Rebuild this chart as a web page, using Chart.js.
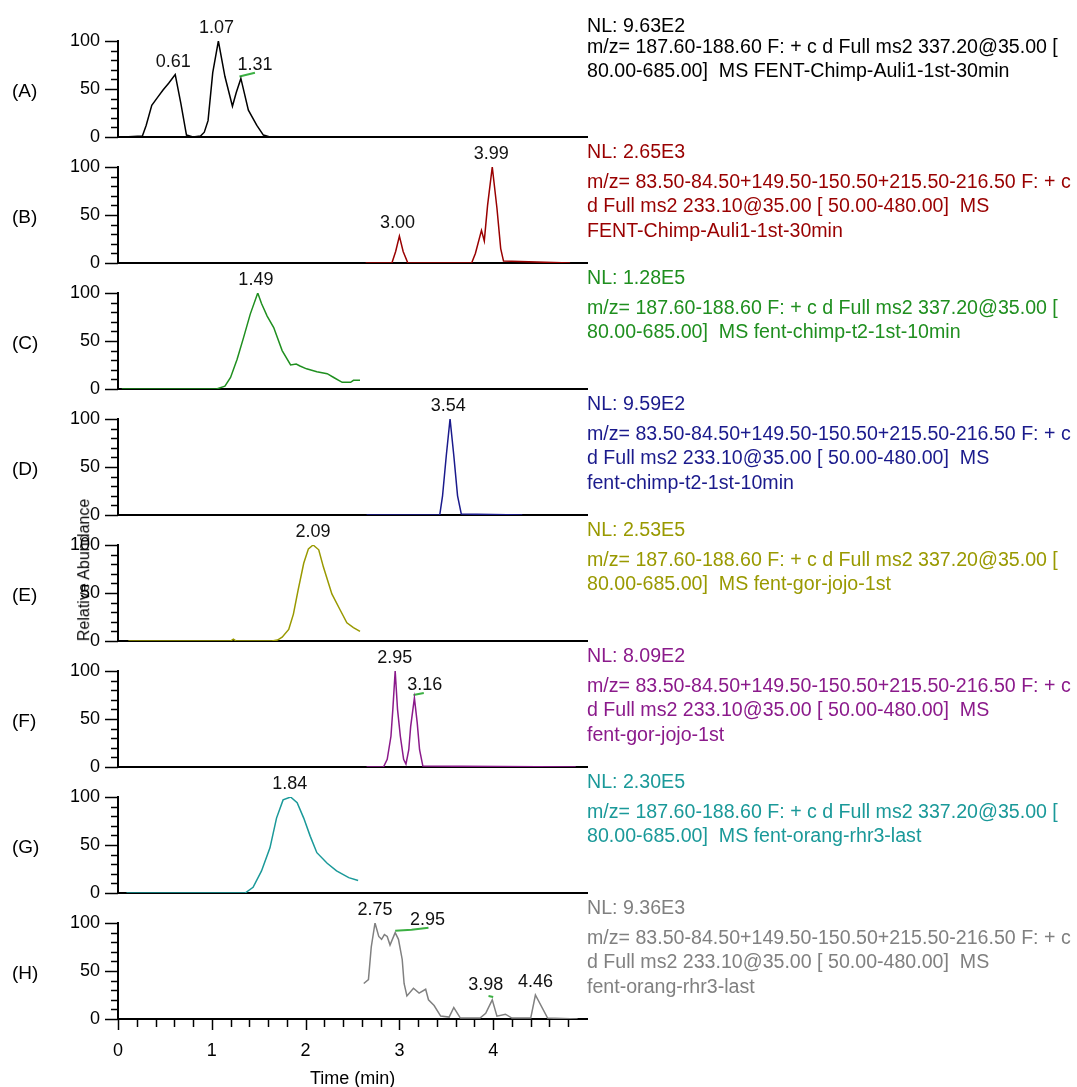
<!DOCTYPE html>
<html>
<head>
<meta charset="utf-8">
<script src="https://cdn.jsdelivr.net/npm/chart.js@4.4.1/dist/chart.umd.min.js"></script>
<style>
  html, body { margin: 0; padding: 0; background: #fff; }
  body { width: 1077px; height: 1087px; position: relative; overflow: hidden; font-family: "Liberation Sans", Arial, sans-serif; }
  .wrap { position: absolute; left: 0; width: 600px; }
  .txt { position: absolute; white-space: pre; font-size: 19.6px; line-height: 24.5px; }
  .plabel { position: absolute; left: 12px; font-size: 19px; line-height: 24px; color: #000; }
  #ytitle { position: absolute; font-size: 16px; color: #000; transform: rotate(-90deg); transform-origin: center center; white-space: nowrap; }
  #xtitle { position: absolute; font-size: 18px; color: #000; white-space: nowrap; }
</style>
</head>
<body>
<script>
// ---------- DATA ----------
const panelNames = ["(A)", "(B)", "(C)", "(D)", "(E)", "(F)", "(G)", "(H)"];
const panelColors = ["#000000", "#990000", "#1f8f1f", "#1a1a8c", "#999900", "#8b1a8b", "#1a9999", "#808080"];
const nlValues = ["NL: 9.63E2", "NL: 2.65E3", "NL: 1.28E5", "NL: 9.59E2", "NL: 2.53E5", "NL: 8.09E2", "NL: 2.30E5", "NL: 9.36E3"];
const filterA = ["m/z= 187.60-188.60 F: + c d Full ms2 337.20@35.00 [", "80.00-685.00]  MS "];
const filterB = ["m/z= 83.50-84.50+149.50-150.50+215.50-216.50 F: + c", "d Full ms2 233.10@35.00 [ 50.00-480.00]  MS"];
const sampleNames = ["FENT-Chimp-Auli1-1st-30min", "FENT-Chimp-Auli1-1st-30min", "fent-chimp-t2-1st-10min", "fent-chimp-t2-1st-10min", "fent-gor-jojo-1st", "fent-gor-jojo-1st", "fent-orang-rhr3-last", "fent-orang-rhr3-last"];

const xTickLabels = ["0", "1", "2", "3", "4"];
const yTickLabels = ["0", "50", "100"];

// time (min) and relative abundance (%) per panel
const timeA = [0.06, 0.26, 0.30, 0.36, 0.42, 0.48, 0.54, 0.61, 0.67, 0.73, 0.80, 0.88, 0.92, 0.96, 1.01, 1.07, 1.14, 1.22, 1.26, 1.31, 1.39, 1.48, 1.55, 1.62, 2.46];
const valA  = [0, 1, 12, 33, 41, 49, 56, 65, 35, 2, 0, 1, 5, 17, 67, 100, 63, 32, 46, 61, 28, 12, 2, 0, 0];
const timeB = [2.64, 2.92, 2.96, 3.00, 3.04, 3.09, 3.77, 3.81, 3.875, 3.905, 3.94, 3.99, 4.04, 4.08, 4.11, 4.82];
const valB  = [0, 0, 12, 28, 12, 0, 0, 10, 34, 23, 60, 100, 57, 15, 2, 0];
const timeC = [0.04, 1.05, 1.14, 1.20, 1.27, 1.34, 1.41, 1.49, 1.53, 1.59, 1.66, 1.75, 1.84, 1.90, 1.94, 2.01, 2.12, 2.23, 2.30, 2.39, 2.48, 2.51, 2.58];
const valC  = [0, 0, 3, 12, 31, 54, 78, 100, 89, 76, 64, 40, 25, 26, 24, 21, 18, 16, 12, 7, 7, 9, 9];
const timeD = [2.65, 3.43, 3.46, 3.50, 3.54, 3.58, 3.62, 3.66, 4.31];
const valD  = [0, 0, 20, 62, 100, 62, 20, 1, 0];
const timeE = [0.11, 1.20, 1.23, 1.26, 1.64, 1.70, 1.75, 1.82, 1.87, 1.92, 1.98, 2.03, 2.08, 2.14, 2.19, 2.28, 2.37, 2.44, 2.51, 2.58];
const valE  = [0, 0, 2, 0, 0, 1, 4, 12, 28, 53, 81, 96, 100, 95, 77, 49, 32, 19, 14, 10];
const timeF = [2.65, 2.83, 2.87, 2.91, 2.93, 2.955, 2.98, 3.01, 3.045, 3.07, 3.10, 3.12, 3.16, 3.19, 3.215, 3.25, 4.88];
const valF  = [0, 0, 8, 32, 60, 100, 60, 32, 8, 3, 18, 42, 72, 46, 18, 1, 0];
const timeG = [0.09, 1.355, 1.44, 1.53, 1.62, 1.69, 1.76, 1.84, 1.91, 1.98, 2.05, 2.12, 2.23, 2.33, 2.46, 2.56];
const valG  = [0, 0, 6, 23, 47, 78, 97, 100, 94, 78, 59, 42, 31, 23, 16, 13];
const timeH = [2.62, 2.67, 2.70, 2.74, 2.78, 2.81, 2.84, 2.87, 2.90, 2.955, 2.99, 3.03, 3.05, 3.08, 3.15, 3.21, 3.28, 3.31, 3.37, 3.44, 3.53, 3.58, 3.65, 3.86, 3.92, 3.99, 4.04, 4.13, 4.20, 4.40, 4.45, 4.58, 4.90];
const valH  = [37, 41, 75, 100, 86, 83, 88, 86, 77, 90, 83, 62, 37, 24, 32, 27, 31, 20, 14, 3, 2, 12, 1, 1, 6, 20, 3, 5, 1, 1, 25, 1, 0];

// peak annotations: anchor time, anchor abundance, text
const peakTimeA = [0.59, 1.05, 1.46]; const peakValA = [65, 100, 61]; const peakTextA = ["0.61", "1.07", "1.31"];
const peakTimeB = [2.98, 3.98];       const peakValB = [28, 100];     const peakTextB = ["3.00", "3.99"];
const peakTimeC = [1.47];             const peakValC = [100];         const peakTextC = ["1.49"];
const peakTimeD = [3.52];             const peakValD = [100];         const peakTextD = ["3.54"];
const peakTimeE = [2.08];             const peakValE = [100];         const peakTextE = ["2.09"];
const peakTimeF = [2.95, 3.27];       const peakValF = [100, 72];     const peakTextF = ["2.95", "3.16"];
const peakTimeG = [1.83];             const peakValG = [100];         const peakTextG = ["1.84"];
const peakTimeH = [2.74, 3.30, 3.92, 4.45]; const peakValH = [100, 90, 22, 25]; const peakTextH = ["2.75", "2.95", "3.98", "4.46"];

// green integration-marker segments (null separates segments)
const markTimeA = [1.295, 1.46];      const markValA = [63, 67];
const markTimeF = [3.15, 3.26];       const markValF = [75, 77];
const markTimeH = [2.955, 3.13, 3.31, null, 3.95, 4.00]; const markValH = [92, 93, 95, null, 24, 23];

// ---------- BUILD ----------
const FONT = '"Liberation Sans", Arial, sans-serif';
const panels = [
  {t: timeA, v: valA, pt: peakTimeA, pv: peakValA, ps: peakTextA, mt: markTimeA, mv: markValA},
  {t: timeB, v: valB, pt: peakTimeB, pv: peakValB, ps: peakTextB, mt: [], mv: []},
  {t: timeC, v: valC, pt: peakTimeC, pv: peakValC, ps: peakTextC, mt: [], mv: []},
  {t: timeD, v: valD, pt: peakTimeD, pv: peakValD, ps: peakTextD, mt: [], mv: []},
  {t: timeE, v: valE, pt: peakTimeE, pv: peakValE, ps: peakTextE, mt: [], mv: []},
  {t: timeF, v: valF, pt: peakTimeF, pv: peakValF, ps: peakTextF, mt: markTimeF, mv: markValF},
  {t: timeG, v: valG, pt: peakTimeG, pv: peakValG, ps: peakTextG, mt: [], mv: []},
  {t: timeH, v: valH, pt: peakTimeH, pv: peakValH, ps: peakTextH, mt: markTimeH, mv: markValH}
];

const FIRST_BOTTOM = 137, SPACING = 126, PLOT_H = 96, TOP_PAD = 30;
const AXIS_LEFT = 118, CANVAS_W = 600, RIGHT_PAD = 13;

function isInt(v) { return Math.abs(v - Math.round(v)) < 1e-6; }

function makeTickPlugin(isLast) {
  return {
    id: 'chromTicks',
    afterDraw(chart) {
      const ctx = chart.ctx, xs = chart.scales.x, ys = chart.scales.y;
      const area = chart.chartArea;
      ctx.save();
      ctx.strokeStyle = '#000';
      ctx.lineWidth = 1.5;
      for (let v = 0; v <= 100; v += 10) {
        const py = Math.round(ys.getPixelForValue(v)) + 0.5;
        const len = (v % 50 === 0) ? 13 : 7;
        ctx.beginPath(); ctx.moveTo(area.left - len, py); ctx.lineTo(area.left, py); ctx.stroke();
      }
      if (isLast) {
        xs.ticks.forEach(tk => {
          const px = Math.round(xs.getPixelForValue(tk.value)) + 0.5;
          const len = isInt(tk.value) ? 11 : 8;
          ctx.beginPath(); ctx.moveTo(px, area.bottom); ctx.lineTo(px, area.bottom + len); ctx.stroke();
        });
      }
      ctx.restore();
    }
  };
}

function makePeakPlugin(p) {
  return {
    id: 'peakLabels',
    afterDatasetsDraw(chart) {
      const ctx = chart.ctx;
      ctx.save();
      ctx.font = '18px ' + FONT;
      ctx.fillStyle = '#111';
      ctx.textAlign = 'center';
      ctx.textBaseline = 'alphabetic';
      p.ps.forEach((txt, i) => {
        const x = chart.scales.x.getPixelForValue(p.pt[i]);
        const y = chart.scales.y.getPixelForValue(p.pv[i]);
        ctx.fillText(txt, x, y - 8);
      });
      ctx.restore();
    }
  };
}

panels.forEach((p, i) => {
  const isLast = i === panels.length - 1;
  const bottom = FIRST_BOTTOM + SPACING * i;
  const canvasTop = bottom - PLOT_H - TOP_PAD;
  const bottomExtra = isLast ? 70 : 16;
  const wrap = document.createElement('div');
  wrap.className = 'wrap';
  wrap.style.top = canvasTop + 'px';
  wrap.style.height = (TOP_PAD + PLOT_H + bottomExtra) + 'px';
  const cv = document.createElement('canvas');
  wrap.appendChild(cv);
  document.body.appendChild(wrap);

  const pts = p.t.map((t, k) => ({x: t, y: p.v[k]}));
  const marks = p.mt.map((t, k) => (t === null ? {x: null, y: null} : {x: t, y: p.mv[k]}));

  new Chart(cv, {
    type: 'line',
    data: {
      datasets: [
        {data: pts, borderColor: panelColors[i], borderWidth: 1.5, pointRadius: 0, tension: 0, fill: false},
        {data: marks, borderColor: '#3cb043', borderWidth: 2, pointRadius: 0, tension: 0, fill: false, spanGaps: false}
      ]
    },
    options: {
      responsive: true, maintainAspectRatio: false, animation: false, events: [],
      devicePixelRatio: 1,
      layout: {padding: {top: TOP_PAD, right: RIGHT_PAD, left: 0, bottom: 0}},
      plugins: {legend: {display: false}, tooltip: {enabled: false}},
      scales: {
        x: {
          type: 'linear', min: 0, max: 5,
          grid: {display: false, drawTicks: false},
          border: {display: true, color: '#000', width: 2},
          ticks: {
            display: isLast, stepSize: 0.2, autoSkip: false, maxRotation: 0, minRotation: 0, padding: 21,
            color: '#000', font: {family: FONT, size: 18},
            callback: (v) => isInt(v) ? xTickLabels[Math.round(v)] : ''
          },
          afterBuildTicks: (s) => { s.ticks = s.ticks.filter(tk => tk.value <= 4.81); },
          afterFit: (s) => { s.height = bottomExtra; }
        },
        y: {
          min: 0, max: 100,
          grid: {display: false, drawTicks: true, tickLength: 16},
          border: {display: true, color: '#000', width: 2},
          ticks: {
            stepSize: 50, padding: 2, color: '#000', font: {family: FONT, size: 18},
            callback: (v) => yTickLabels[Math.round(v / 50)]
          },
          afterFit: (s) => { s.width = AXIS_LEFT; }
        }
      }
    },
    plugins: [makeTickPlugin(isLast), makePeakPlugin(p)]
  });

  // panel label
  const lab = document.createElement('div');
  lab.className = 'plabel';
  lab.textContent = panelNames[i];
  lab.style.top = (bottom - 46 - 12) + 'px';
  document.body.appendChild(lab);

  // right-hand text block
  const top = bottom - PLOT_H;
  const nl = document.createElement('div');
  nl.className = 'txt';
  nl.style.color = panelColors[i];
  nl.style.left = '587px';
  nl.style.top = (top - 16 - 12.25) + 'px';
  nl.textContent = nlValues[i];
  document.body.appendChild(nl);

  const body = document.createElement('div');
  body.className = 'txt';
  body.style.color = panelColors[i];
  body.style.left = '587px';
  body.style.top = (top + (i === 0 ? 5 : 14) - 12.25) + 'px';
  const lines = (i % 2 === 0)
    ? [filterA[0], filterA[1] + sampleNames[i]]
    : [filterB[0], filterB[1], sampleNames[i]];
  body.textContent = lines.join('\n');
  document.body.appendChild(body);
});

// axis titles
const yt = document.createElement('div');
yt.id = 'ytitle'; yt.textContent = 'Relative Abundance';
document.body.appendChild(yt);
const yw = yt.offsetWidth, yh = yt.offsetHeight;
yt.style.left = (84 - yw / 2) + 'px';
yt.style.top = (570 - yh / 2) + 'px';

const xt = document.createElement('div');
xt.id = 'xtitle'; xt.textContent = 'Time (min)';
document.body.appendChild(xt);
xt.style.left = (352.5 - xt.offsetWidth / 2) + 'px';
xt.style.top = (1078 - xt.offsetHeight / 2) + 'px';
</script>
</body>
</html>
